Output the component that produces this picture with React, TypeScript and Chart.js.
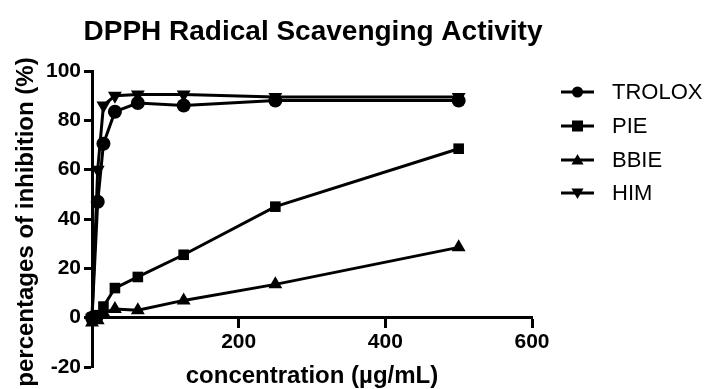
import React, { useEffect, useRef } from "react";
import { Chart, registerables } from "chart.js";

Chart.register(...registerables);

const concentrations = [0, 7.8, 15.6, 31.25, 62.5, 125, 250, 500];
const troloxValues = [0, 47, 70.5, 83.5, 87, 86, 88, 88];
const pieValues = [0, 1, 4.5, 12, 16.5, 25.5, 45, 68.5];
const bbieValues = [-2, -1, 2, 3.5, 3, 7, 13.5, 28.5];
const himValues = [0, 60, 86, 90, 90.5, 90.5, 89.5, 89.5];

const seriesNames = ["TROLOX", "PIE", "BBIE", "HIM"];
const xTicks = [0, 200, 400, 600];
const yTicks = [-20, 0, 20, 40, 60, 80, 100];

const titleText = "DPPH Radical Scavenging Activity";
const xTitle = "concentration (\u00b5g/mL)";
const yTitle = "percentages of inhibition (%)";

const FONT = "'Liberation Sans', Arial, Helvetica, sans-serif";

function toPoints(values: number[]) {
  return concentrations.map((x, i) => ({ x, y: values[i] }));
}

function drawMarker(ctx: CanvasRenderingContext2D, style: string, x: number, y: number, r: number) {
  ctx.beginPath();
  if (style === "circle") {
    ctx.arc(x, y, r, 0, Math.PI * 2);
  } else if (style === "rect") {
    ctx.rect(x - r, y - r, 2 * r, 2 * r);
  } else if (style === "triangle") {
    ctx.moveTo(x, y - r * 1.1);
    ctx.lineTo(x + r * 1.1, y + r * 0.8);
    ctx.lineTo(x - r * 1.1, y + r * 0.8);
    ctx.closePath();
  } else {
    ctx.moveTo(x, y + r * 1.1);
    ctx.lineTo(x + r * 1.1, y - r * 0.8);
    ctx.lineTo(x - r * 1.1, y - r * 0.8);
    ctx.closePath();
  }
  ctx.fill();
}

const textPlugin = {
  id: "textPlugin",
  afterDraw(chart: any) {
    const ctx: CanvasRenderingContext2D = chart.ctx;
    ctx.save();
    ctx.fillStyle = "#000";
    ctx.strokeStyle = "#000";
    // title
    ctx.font = `bold 28px ${FONT}`;
    ctx.textAlign = "center";
    ctx.textBaseline = "alphabetic";
    ctx.fillText(titleText, 313, 40);
    // x title
    ctx.font = `bold 24px ${FONT}`;
    ctx.fillText(xTitle, 312, 383);
    // y title
    ctx.save();
    ctx.translate(33, 222);
    ctx.rotate(-Math.PI / 2);
    ctx.font = `bold 24px ${FONT}`;
    ctx.textAlign = "center";
    ctx.fillText(yTitle, 0, 0);
    ctx.restore();
    // legend
    const styles = ["circle", "rect", "triangle", "down"];
    const rows = [92, 126, 160, 193];
    ctx.font = `22px ${FONT}`;
    ctx.textAlign = "left";
    ctx.textBaseline = "middle";
    ctx.lineWidth = 3;
    seriesNames.forEach((name, i) => {
      const y = rows[i];
      ctx.beginPath();
      ctx.moveTo(561, y);
      ctx.lineTo(594, y);
      ctx.stroke();
      drawMarker(ctx, styles[i], 577.5, y, 5.5);
      ctx.fillText(name, 612, y + 1);
    });
    ctx.restore();
  },
};

export default function App() {
  const canvasRef = useRef<HTMLCanvasElement | null>(null);

  useEffect(() => {
    document.body.style.margin = "0";
    const canvas = canvasRef.current;
    if (!canvas) return;
    const common = {
      showLine: true,
      borderColor: "#000",
      backgroundColor: "#000",
      pointBackgroundColor: "#000",
      pointBorderColor: "#000",
      borderWidth: 3,
      pointBorderWidth: 0,
      tension: 0,
      clip: false as any,
    };
    const chart = new Chart(canvas, {
      type: "scatter",
      data: {
        datasets: [
          { ...common, label: seriesNames[0], data: toPoints(troloxValues), pointStyle: "circle", pointRadius: 7 },
          { ...common, label: seriesNames[1], data: toPoints(pieValues), pointStyle: "rect", pointRadius: 7.5 },
          { ...common, label: seriesNames[2], data: toPoints(bbieValues), pointStyle: "triangle", pointRadius: 8 },
          { ...common, label: seriesNames[3], data: toPoints(himValues), pointStyle: "triangle", rotation: 180, pointRadius: 8 },
        ],
      },
      options: {
        responsive: false,
        animation: false,
        devicePixelRatio: 1,
        layout: { padding: { left: 0, top: 71, right: 175, bottom: 22 } },
        plugins: {
          legend: { display: false },
          title: { display: false },
          tooltip: { enabled: false },
        },
        scales: {
          x: {
            type: "linear",
            position: { y: 0 } as any,
            min: xTicks[0],
            max: xTicks[xTicks.length - 1],
            afterBuildTicks: (s: any) => {
              s.ticks = xTicks.map((v) => ({ value: v }));
            },
            ticks: {
              color: "#000",
              font: { family: FONT, size: 21, weight: "bold" },
              padding: 3,
              maxRotation: 0,
              callback: (v: any) => (v === 0 ? "" : String(v)),
            },
            grid: {
              drawOnChartArea: false,
              drawTicks: true,
              tickLength: 9,
              tickWidth: 3,
              tickColor: "#000",
            },
            border: { display: true, color: "#000", width: 3 },
          },
          y: {
            type: "linear",
            position: "left",
            min: yTicks[0],
            max: yTicks[yTicks.length - 1],
            afterBuildTicks: (s: any) => {
              s.ticks = yTicks.map((v) => ({ value: v }));
            },
            afterFit: (s: any) => {
              s.width = 92;
            },
            ticks: {
              color: "#000",
              font: { family: FONT, size: 21, weight: "bold" },
              padding: 3,
            },
            grid: {
              drawOnChartArea: false,
              drawTicks: true,
              tickLength: 8,
              tickWidth: 3,
              tickColor: "#000",
            },
            border: { display: true, color: "#000", width: 3 },
          },
        },
      },
      plugins: [textPlugin],
    } as any);
    return () => chart.destroy();
  }, []);

  return (
    <div style={{ width: 707, height: 389, position: "relative", background: "#fff" }}>
      <canvas ref={canvasRef} width={707} height={389} style={{ width: 707, height: 389, display: "block" }} />
    </div>
  );
}
